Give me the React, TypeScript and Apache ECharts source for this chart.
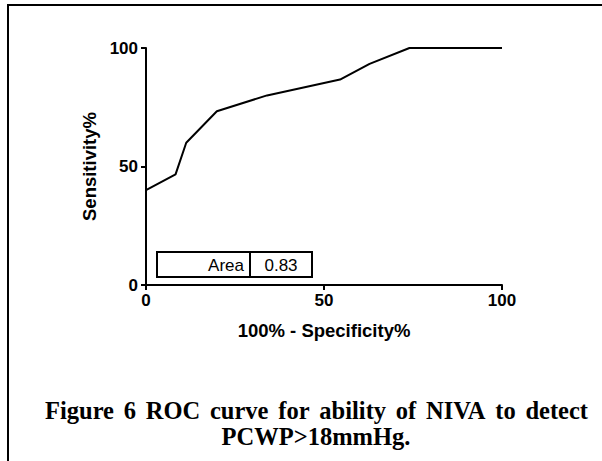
import React, { useEffect, useRef } from "react";
import * as echarts from "echarts";

// ROC curve points: 100% - specificity (x) vs sensitivity (y)
const falsePositiveRate: number[] = [0, 0, 8.3, 11.3, 19.9, 34, 54.5, 62.8, 74, 100];
const sensitivity: number[] = [0, 40, 46.67, 60, 73.33, 80, 86.67, 93.33, 100, 100];

const xTicks = { min: 0, max: 100, interval: 50 };
const yTicks = { min: 0, max: 100, interval: 50 };

const areaLabel = "Area";
const areaValue = "0.83";

const captionLines: string[] = [
  "Figure 6 ROC curve for ability of NIVA to detect",
  "PCWP>18mmHg.",
];

const sansFont = "'Liberation Sans', Arial, sans-serif";
const serifFont = "'Liberation Serif', 'Times New Roman', serif";
const captionFont = `bold 24.5px ${serifFont}`;

// Width of a string in the given CSS font
function measure(text: string, font: string): number {
  const ctx = document.createElement("canvas").getContext("2d");
  if (!ctx) return text.length * 10;
  ctx.font = font;
  return ctx.measureText(text).width;
}

// Lay out a justified line: words spread between left and right edges
function justifiedWords(line: string, left: number, right: number, y: number) {
  const words = line.split(" ");
  const widths = words.map((w) => measure(w, captionFont));
  const total = widths.reduce((a, b) => a + b, 0);
  const gap = (right - left - total) / (words.length - 1);
  let x = left;
  return words.map((w, i) => {
    const el = {
      type: "text",
      x,
      y,
      style: { text: w, font: captionFont, fill: "#000", align: "left", verticalAlign: "middle" },
      z: 11,
    };
    x += widths[i] + gap;
    return el;
  });
}

export default function App() {
  const ref = useRef<HTMLDivElement>(null);

  useEffect(() => {
    if (!ref.current) return;
    const chart = echarts.init(ref.current, undefined, { renderer: "svg" });

    const axisCommon = {
      type: "value" as const,
      nameLocation: "middle" as const,
      nameTextStyle: {
        fontFamily: sansFont,
        fontWeight: "bold" as const,
        fontSize: 18.5,
        color: "#000",
      },
      axisLine: { show: true, lineStyle: { color: "#000", width: 2 } },
      axisTick: { show: true, inside: false, length: 5, lineStyle: { color: "#000", width: 2 } },
      axisLabel: {
        fontFamily: sansFont,
        fontWeight: "bold" as const,
        fontSize: 17,
        color: "#000",
        margin: 8,
      },
      splitLine: { show: false },
    };

    chart.setOption({
      animation: false,
      backgroundColor: "#fff",
      grid: { left: 146, right: 100, top: 48, bottom: 176 },
      xAxis: {
        ...axisCommon,
        ...xTicks,
        name: "100% - Specificity%",
        nameGap: 36,
        axisLabel: { ...axisCommon.axisLabel, margin: 7 },
      },
      yAxis: {
        ...axisCommon,
        ...yTicks,
        name: "Sensitivity%",
        nameGap: 46,
      },
      series: [
        {
          type: "line",
          data: falsePositiveRate.map((x, i) => [x, sensitivity[i]]),
          showSymbol: false,
          symbol: "none",
          lineStyle: { color: "#000", width: 2 },
          z: 3,
        },
      ],
      graphic: [
        // frame edges (top and left)
        { type: "line", shape: { x1: 7, y1: 5, x2: 602, y2: 5 }, style: { stroke: "#000", lineWidth: 2 } },
        { type: "line", shape: { x1: 8, y1: 4, x2: 8, y2: 461 }, style: { stroke: "#000", lineWidth: 2 } },
        // area table
        {
          type: "rect",
          shape: { x: 157, y: 252, width: 155, height: 25 },
          style: { fill: "#fff", stroke: "#000", lineWidth: 2 },
          z: 10,
        },
        {
          type: "line",
          shape: { x1: 250, y1: 252, x2: 250, y2: 277 },
          style: { stroke: "#000", lineWidth: 2 },
          z: 11,
        },
        {
          type: "text",
          x: 244,
          y: 265,
          style: {
            text: areaLabel,
            font: `17px ${sansFont}`,
            fill: "#000",
            align: "right",
            verticalAlign: "middle",
          },
          z: 11,
        },
        {
          type: "text",
          x: 281,
          y: 265,
          style: {
            text: areaValue,
            font: `17px ${sansFont}`,
            fill: "#000",
            align: "center",
            verticalAlign: "middle",
          },
          z: 11,
        },
        ...justifiedWords(captionLines[0], 45, 588, 410),
        {
          type: "text",
          x: 316,
          y: 436,
          style: {
            text: captionLines[1],
            font: captionFont,
            fill: "#000",
            align: "center",
            verticalAlign: "middle",
          },
          z: 11,
        },
      ],
    });

    return () => chart.dispose();
  }, []);

  return <div ref={ref} style={{ width: 602, height: 461, position: "absolute", left: 0, top: 0 }} />;
}
